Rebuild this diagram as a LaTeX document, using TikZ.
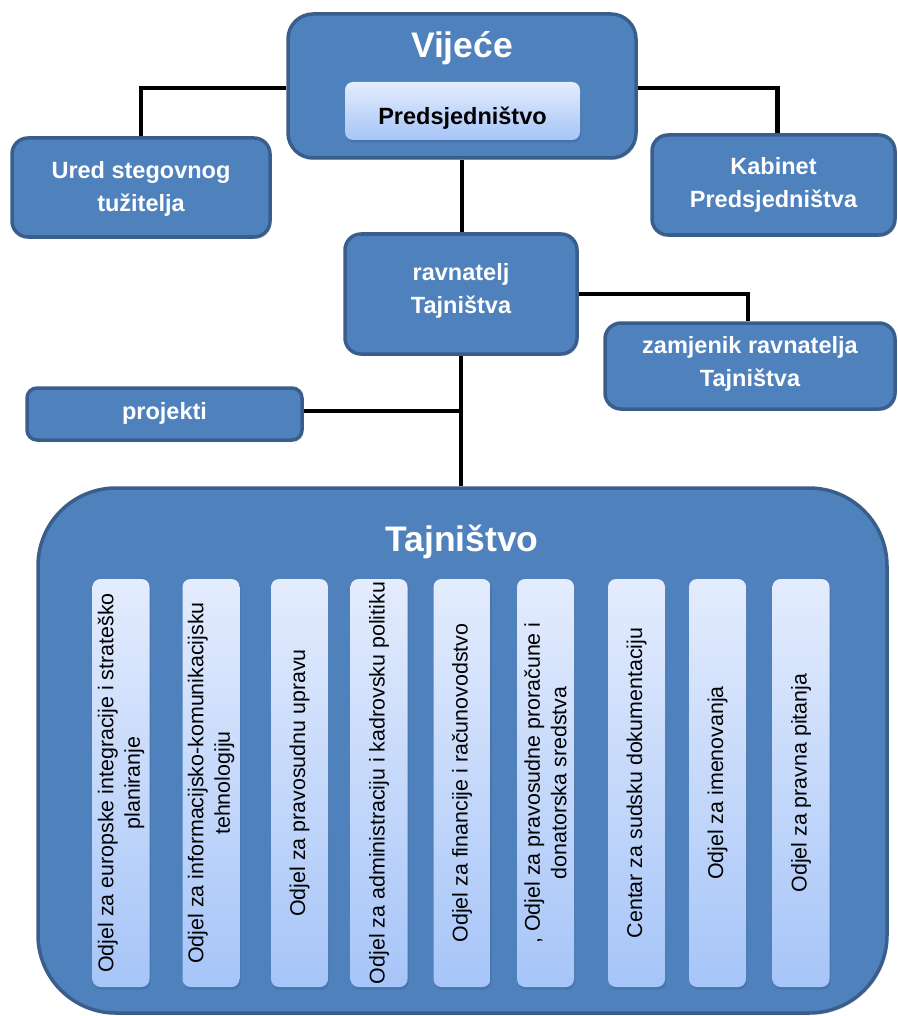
\documentclass[tikz,border=0pt]{standalone}
\usepackage{fontspec}
\setmainfont{Liberation Sans}
\usetikzlibrary{shadows}
\pgfdeclarelayer{bg}
\pgfsetlayers{bg,main}
\definecolor{boxblue}{RGB}{79,129,189}
\definecolor{boxedge}{RGB}{58,94,140}
\definecolor{lighttop}{RGB}{228,236,253}
\definecolor{lightbot}{RGB}{166,197,248}
\tikzset{
  bluebox/.style={draw=boxedge, fill=boxblue, line width=3.5pt, rounded corners=16pt,
    drop shadow={opacity=0.25, shadow xshift=1.5pt, shadow yshift=-2pt}},
  lightbox/.style={draw=none, top color=lighttop, bottom color=lightbot, rounded corners=8pt,
    drop shadow={opacity=0.35, fill=boxedge, shadow xshift=1pt, shadow yshift=-2.5pt}},
  whitetxt/.style={text=white, font=\bfseries\fontsize{23.5}{33}\selectfont, align=center},
  bigtxt/.style={text=white, font=\bfseries\fontsize{35.5}{40}\selectfont},
  coltext/.style={rotate=90, text=black, font=\fontsize{21.4}{26.5}\selectfont, align=center},
  conn/.style={draw=black, line width=4.5pt},
}
\begin{document}
\begin{tikzpicture}[x=1pt, y=-1pt]
\useasboundingbox (0,0) rectangle (897,1016);
% boxes
\node[bluebox, minimum width=348pt, minimum height=144pt, rounded corners=25pt] (vijece) at (462,86) {};
\node[bluebox, minimum width=258pt, minimum height=99pt] (ured) at (141,187.5) {};
\node[bluebox, minimum width=243pt, minimum height=100pt] (kabinet) at (773.5,185) {};
\node[bluebox, minimum width=232pt, minimum height=120pt] (ravnatelj) at (461,294) {};
\node[bluebox, minimum width=290pt, minimum height=86pt] (zamjenik) at (750,366) {};
\node[bluebox, minimum width=275pt, minimum height=52pt, rounded corners=10pt] (projekti) at (164.5,414) {};
\node[bluebox, minimum width=849pt, minimum height=525pt, rounded corners=78pt] (tajnistvo) at (462.5,750.5) {};

% connectors behind the boxes
\begin{pgfonlayer}{bg}
\draw[conn] ([yshift=-2pt]vijece.west) -| (ured.north);
\draw[conn] ([yshift=-2pt]vijece.east) -| ([xshift=4pt]kabinet.north);
\draw[conn] (vijece.south) -- (vijece.south |- ravnatelj.north);
\draw[conn] (ravnatelj.east) -| ([xshift=-2pt]zamjenik.north);
\draw[conn] (ravnatelj.south) -- (ravnatelj.south |- tajnistvo.north);
\draw[conn] ([yshift=3pt]projekti.east) -- ([yshift=3pt]projekti.east -| ravnatelj.south);
\end{pgfonlayer}

% texts
\node[bigtxt] (vijecetxt) at (462,48) {Vijeće};
\node[lightbox, minimum width=235pt, minimum height=58pt] (predsj) at (462.5,111) {};
\node[font=\bfseries\fontsize{23.5}{26}\selectfont, text=black] (predsjtxt) at (462.5,118) {Predsjedništvo};
\node[whitetxt] (uredtxt) at (141,188.5) {Ured stegovnog\\tužitelja};
\node[whitetxt] (kabinettxt) at (773.5,185) {Kabinet\\Predsjedništva};
\node[whitetxt] (ravnateljtxt) at (461,291) {ravnatelj\\Tajništva};
\node[whitetxt] (zamjeniktxt) at (750,364) {zamjenik ravnatelja\\Tajništva};
\node[whitetxt] (projektitxt) at (164.5,413) {projekti};
\node[bigtxt] (tajnistvotxt) at (462,542) {Tajništvo};

% columns
\foreach \n/\x in {1/121, 2/211, 3/299.5, 4/379, 5/462, 6/545.5, 7/636.5, 8/717.5, 9/801} {
  \node[lightbox, minimum width=57pt, minimum height=408pt] (c\n) at (\x,783) {};
}
\node[coltext] (t1) at (c1) {Odjel za europske integracije i strateško\\planiranje};
\node[coltext] (t2) at (c2) {Odjel za informacijsko-komunikacijsku\\tehnologiju};
\node[coltext] (t3) at (c3) {Odjel za pravosudnu upravu};
\node[coltext] (t4) at (c4) {Odjel za administraciju i kadrovsku politiku};
\node[coltext] (t5) at (c5) {Odjel za financije i računovodstvo};
\node[coltext] (t6) at (c6) {, Odjel za pravosudne proračune i\\donatorska sredstva};
\node[coltext] (t7) at (c7) {Centar za sudsku dokumentaciju};
\node[coltext] (t8) at (c8) {Odjel za imenovanja};
\node[coltext] (t9) at (c9) {Odjel za pravna pitanja};
\end{tikzpicture}
\end{document}
